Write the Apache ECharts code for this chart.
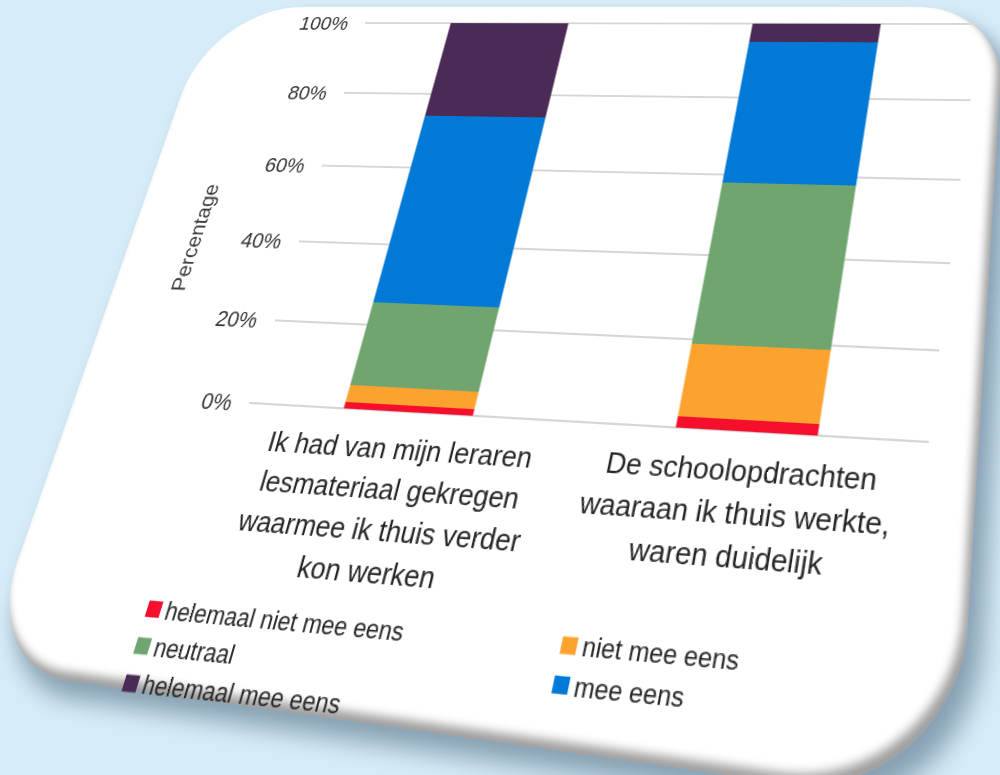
<!DOCTYPE html>
<html>
<head>
<meta charset="utf-8">
<script src="https://cdn.jsdelivr.net/npm/echarts@6/dist/echarts.min.js"></script>
<style>
html,body{margin:0;padding:0;width:1000px;height:775px;overflow:hidden;background:#d6edf9;}
#card{position:absolute;left:0;top:0;width:1000px;height:800px;background:#ffffff;
  border-radius:130px 95px 150px 105px;transform-origin:0 0;
  box-shadow: 14px 16px 22px rgba(70,95,118,0.55), inset -5px -8px 8px rgba(0,0,0,0.38);}
#chart{position:absolute;left:0;top:0;width:1000px;height:775px;transform-origin:0 0;}
</style>
</head>
<body>
<div id="card"></div>
<div id="chart"></div>
<script>
// ---------------- data ----------------
const categories = [
  "Ik had van mijn leraren\nlesmateriaal gekregen\nwaarmee ik thuis verder\nkon werken",
  "De schoolopdrachten\nwaaraan ik thuis werkte,\nwaren duidelijk"
];
const seriesNames = ["helemaal niet mee eens", "niet mee eens", "neutraal", "mee eens", "helemaal mee eens"];
const helemaalNietMeeEens = [1.5, 2.5];
const nietMeeEens = [4, 16.5];
const neutraal = [20, 39];
const meeEens = [48.5, 37];
const helemaalMeeEens = [26, 5];
const yTicks = [0, 20, 40, 60, 80, 100];
const axisTitle = "Percentage";

// ---------------- perspective helpers ----------------
function solve(A, b) {
  const n = b.length;
  const M = A.map((r, i) => r.concat([b[i]]));
  for (let c = 0; c < n; c++) {
    let p = c;
    for (let r = c + 1; r < n; r++) if (Math.abs(M[r][c]) > Math.abs(M[p][c])) p = r;
    [M[c], M[p]] = [M[p], M[c]];
    for (let r = 0; r < n; r++) {
      if (r === c) continue;
      const f = M[r][c] / M[c][c];
      for (let k = c; k <= n; k++) M[r][k] -= f * M[c][k];
    }
  }
  return M.map((r, i) => r[n] / r[i]);
}
function homography(src, dst) {
  const A = [], b = [];
  for (let i = 0; i < 4; i++) {
    const [x, y] = src[i], [X, Y] = dst[i];
    A.push([x, y, 1, 0, 0, 0, -x * X, -y * X]); b.push(X);
    A.push([0, 0, 0, x, y, 1, -x * Y, -y * Y]); b.push(Y);
  }
  return solve(A, b);
}
function applyH(h, p) {
  const w = h[6] * p[0] + h[7] * p[1] + 1;
  return [(h[0] * p[0] + h[1] * p[1] + h[2]) / w, (h[3] * p[0] + h[4] * p[1] + h[5]) / w];
}
function cssMatrix(h) {
  return 'matrix3d(' + [h[0], h[3], 0, h[6], h[1], h[4], 0, h[7], 0, 0, 1, 0, h[2], h[5], 0, 1].join(',') + ')';
}

// flat plot rectangle and where it appears in the photo
const PL = 250, PT = 60, PW = 650, PH = 400;
const flatPlot = [[PL, PT], [PL + PW, PT], [PL + PW, PT + PH], [PL, PT + PH]];
const screenPlot = [[365, 23], [980, 24], [928, 442], [250, 403]];
const H = homography(flatPlot, screenPlot);
const Hinv = homography(screenPlot, flatPlot);
document.getElementById('chart').style.transform = cssMatrix(H);

// card
const cardFlat = [[0, 0], [1000, 0], [1000, 800], [0, 800]];
const cardScreen = [[212, 7], [1005, 7], [957, 808], [-20, 668]];
document.getElementById('card').style.transform = cssMatrix(homography(cardFlat, cardScreen));

// legend anchors (square centres in the photo)
const l1 = applyH(Hinv, [151, 603]);
const l3 = applyH(Hinv, [128, 677]);
const r1 = applyH(Hinv, [565, 639]);
const pitch = (l3[1] - l1[1]) / 2;
const itemH = 26;
const gap = pitch - itemH;

// axis title anchor
const tA = applyH(Hinv, [195, 237]);
const nameFont = 22;
const nameGap = PL - tA[0] - nameFont / 2;
const shift = tA[1] - (PT + PH / 2);
const namePad = shift >= 0 ? [0, 2 * shift, 0, 0] : [0, 0, 0, -2 * shift];

const colors = ['#f50f2d', '#fca22f', '#70a56f', '#0079d7', '#4b2a56'];
const dataSets = [helemaalNietMeeEens, nietMeeEens, neutraal, meeEens, helemaalMeeEens];
const FONT = "'Liberation Sans', Arial, sans-serif";

const chart = echarts.init(document.getElementById('chart'), null, { renderer: 'svg' });
const legendText = { fontFamily: FONT, fontSize: 22, lineHeight: itemH, color: '#262626' };
chart.setOption({
  animation: false,
  color: colors,
  grid: { left: PL, top: PT, width: PW, height: PH, outerBoundsMode: 'none', containLabel: false },
  xAxis: {
    type: 'category',
    data: categories,
    axisLine: { show: true, lineStyle: { color: '#d6d6d6', width: 2 } },
    axisTick: { show: false },
    axisLabel: { interval: 0, margin: 16, fontFamily: FONT, fontSize: 26, lineHeight: 36, color: '#262626' }
  },
  yAxis: {
    type: 'value',
    min: 0, max: 100, interval: 20,
    name: axisTitle,
    nameLocation: 'middle',
    nameGap: nameGap,
    nameTextStyle: { fontFamily: FONT, fontSize: nameFont, color: '#3a3a3a', padding: namePad },
    axisLine: { show: false },
    axisTick: { show: false },
    splitLine: { lineStyle: { color: '#d6d6d6', width: 2 } },
    axisLabel: {
      margin: 19, fontFamily: FONT, fontSize: 22, color: '#333333',
      formatter: v => (yTicks.indexOf(v) >= 0 ? v + '%' : '')
    }
  },
  legend: [
    {
      orient: 'vertical', left: l1[0] - 7, top: l1[1] - itemH / 2, itemGap: gap,
      itemWidth: 14, itemHeight: 14, icon: 'rect',
      data: [seriesNames[0], seriesNames[2], seriesNames[4]], textStyle: legendText
    },
    {
      orient: 'vertical', left: r1[0] - 7, top: r1[1] - itemH / 2, itemGap: gap,
      itemWidth: 14, itemHeight: 14, icon: 'rect',
      data: [seriesNames[1], seriesNames[3]], textStyle: legendText
    }
  ],
  series: seriesNames.map((n, i) => ({
    name: n, type: 'bar', stack: 'total', barWidth: '40%',
    data: dataSets[i], itemStyle: { color: colors[i] }
  }))
});
</script>
</body>
</html>
